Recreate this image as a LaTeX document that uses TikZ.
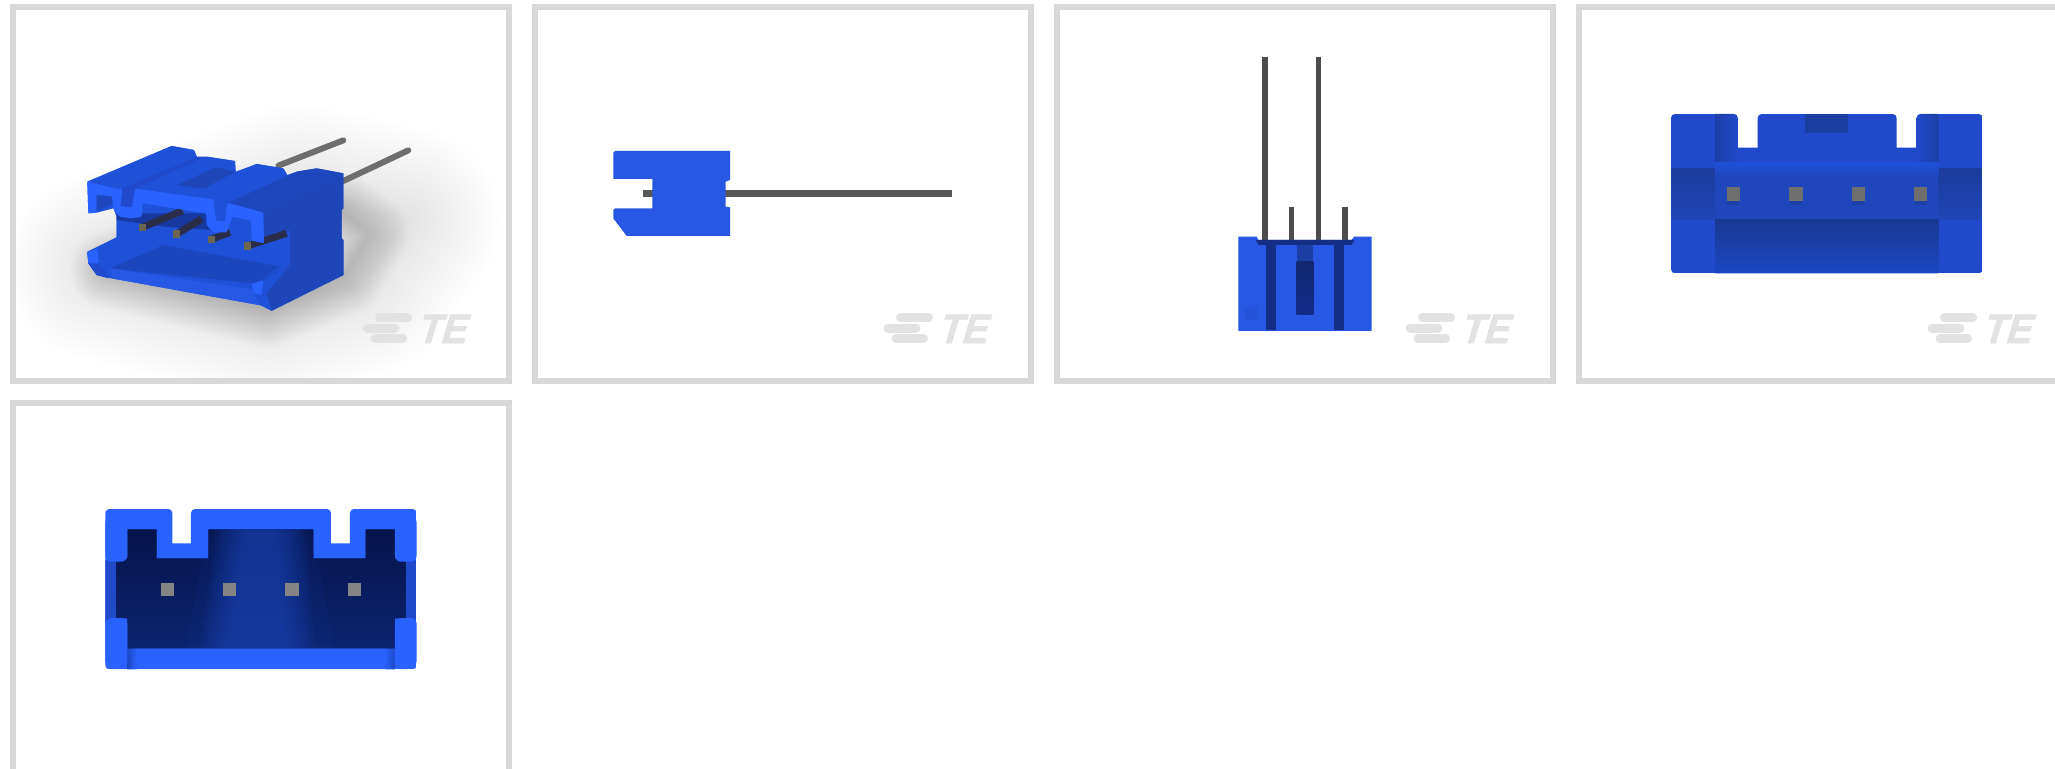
\documentclass[tikz,border=0pt]{standalone}
\usepackage{fontspec}
\setmainfont{Liberation Sans}
\newfontfamily\tefont[FakeSlant=0.3,FakeStretch=0.93,FakeBold=1.5]{Liberation Sans Bold}
\definecolor{frameg}{HTML}{D8D8D8}
\definecolor{logog}{HTML}{E2E2E2}
\definecolor{side}{HTML}{1F46B8}
\definecolor{flatb}{HTML}{2757E3}
\definecolor{bright}{HTML}{2A62FF}
\definecolor{midb}{HTML}{2049CC}
\definecolor{topb}{HTML}{1E50D8}
\definecolor{darkb}{HTML}{142E85}
\definecolor{pinc}{HTML}{6E6E6E}
\definecolor{pindark}{HTML}{2A2D4A}
\definecolor{pinend}{HTML}{6B6650}
\definecolor{fana}{HTML}{081A5C}
\definecolor{fanc}{HTML}{102C80}
\definecolor{fandeep}{HTML}{050F40}
\definecolor{glow}{HTML}{1E4BC0}
\tikzset{
  panelframe/.style={draw=frameg,line width=6pt,fill=white},
  pixel/.style={x=0.33333pt,y=-0.33333pt},
  logobar/.style={draw=logog,line width=9pt,line cap=round},
}
\newcommand{\telogo}[3]{%
  \begin{scope}[shift={(#2pt,#3pt)}]
    \draw[logobar] (379.5,317.5) -- (407.5,317.5);
    \draw[logobar] (367,328) -- (395,328);
    \draw[logobar] (375,338.5) -- (402.5,338.5);
    \node[anchor=base west,inner sep=0pt,text=logog,font=\fontsize{41}{41}\selectfont\tefont] (#1) at (416,343) {TE};
  \end{scope}}
\begin{document}
\begin{tikzpicture}[x=1pt,y=-1pt]
\useasboundingbox (0,0) rectangle (2055,768);
\clip (0,0) rectangle (2055,768);
\fill[white] (0,0) rectangle (2055,768);
% frames
\draw[panelframe] (13,7) rectangle (509,380.5);
\draw[panelframe] (535,7) rectangle (1031,380.5);
\draw[panelframe] (1057,7) rectangle (1553,380.5);
\draw[panelframe] (1579,7) rectangle (2075,380.5);
\draw[panelframe] (13,403) rectangle (509,790);

% ------- panel 1
\begin{scope}[pixel]
  \begin{scope}
    \clip (48,30) rectangle (1518,1134);
    \foreach \w in {10,20,...,240}{
      \draw[black,opacity=.0085,line width=\w*0.33333pt,line join=round]
        (330,810) -- (800,925) -- (1030,830) -- (1110,700) -- (1030,640) -- (700,660) -- cycle;
    }
    \foreach \w in {20,40,...,560}{
      \draw[black,opacity=.0035,line width=\w*0.33333pt,line join=round]
        (300,800) -- (800,930) -- (1080,850) -- (1220,660) -- (900,590) -- cycle;
    }
  \end{scope}
  % pins behind
  \draw[pinc,line width=6pt,line cap=round] (835,497) -- (1030,421);
  \draw[pinc,line width=6pt,line cap=round] (1030,543) -- (1225,451);
  % silhouette
  \fill[topb] (262,545) -- (515,438) -- (582,450) -- (595,480) -- (620,470) -- (705,483) -- (707,515) -- (770,492) -- (850,505) -- (862,525) -- (890,515) -- (950,505) -- (1030,520) -- (1030,625) -- (1025,630) -- (1025,715) -- (1030,720) -- (1030,825) -- (815,932) -- (782,916) -- (340,836) -- (290,825) -- (265,790) -- (262,757) -- (350,712) -- (350,650) -- (340,625) -- (290,638) -- (265,640) -- cycle;
  % back wall
  \fill[topb] (350,640) -- (870,680) -- (870,800) -- (490,740) -- (350,715) -- cycle;
  \fill[darkb!70!topb] (350,640) -- (640,640) -- (640,690) -- (490,680) -- (350,660) -- cycle;
  % right side
  \fill[side] (790,635) -- (1030,520) -- (1030,625) -- (1025,630) -- (1025,715) -- (1030,720) -- (1030,825) -- (815,932) -- (785,905) -- (760,850) -- (870,795) -- (870,690) -- (790,730) -- cycle;
  % floor
  \fill[topb!88!black] (328,805) -- (490,735) -- (840,800) -- (760,850) -- cycle;
  \fill[topb] (262,755) -- (350,712) -- (490,735) -- (328,805) -- (325,835) -- (290,825) -- (265,790) -- cycle;
  \fill[midb] (265,790) -- (295,790) -- (325,832) -- (290,825) -- cycle;
  \fill[bright,rounded corners=1pt] (262,757) -- (292,745) -- (296,790) -- (265,790) -- cycle;
  \fill[bright!90!black] (328,805) -- (757,868) -- (782,916) -- (340,836) -- cycle;
  \fill[topb] (760,880) -- (790,840) -- (870,795) -- (1000,770) -- (1000,830) -- (815,932) -- (782,916) -- cycle;
  \fill[side] (870,795) -- (1030,720) -- (1030,825) -- (815,932) -- (800,880) -- cycle;
  \fill[bright,rounded corners=1pt] (755,852) -- (790,840) -- (785,885) -- (762,880) -- cycle;
  % pins inside
  \foreach \a/\b/\c/\d in {427/682/548/632, 530/702/605/657, 634/718/690/697, 742/738/860/700}{
    \draw[pindark,line width=7pt] (\a,\b) -- (\c,\d);
    \fill[pinend] (\a-11,\b-11) rectangle (\a+11,\b+11);
  }
  % top faces
  \fill[topb,rounded corners=1pt] (262,545) -- (515,438) -- (582,450) -- (595,485) -- (400,570) -- (390,615) -- (365,590) -- (345,570) -- cycle;
  \fill[midb] (365,566) -- (592,470) -- (620,470) -- (405,566) -- (395,622) -- (365,618) -- cycle;
  \fill[topb,rounded corners=1pt] (400,570) -- (620,470) -- (705,483) -- (707,520) -- (640,598) -- cycle;
  \fill[side] (530,555) -- (648,502) -- (705,515) -- (612,566) -- cycle;
  \fill[topb,rounded corners=1pt] (640,598) -- (707,520) -- (770,492) -- (850,505) -- (862,525) -- (682,608) -- (675,665) -- (648,662) -- cycle;
  \fill[side!85!topb,rounded corners=1pt] (680,610) -- (890,515) -- (950,505) -- (1030,520) -- (790,638) -- cycle;
  % bright front profile
  \fill[bright,rounded corners=1pt] (262,545) -- (345,565) -- (368,568) -- (362,618) -- (395,622) -- (405,566) -- (640,598) -- (648,662) -- (675,665) -- (682,608) -- (790,638) -- (792,730) -- (756,722) -- (752,662) -- (698,650) -- (680,697) -- (640,697) -- (620,675) -- (618,640) -- (428,610) -- (425,650) -- (395,655) -- (358,650) -- (340,625) -- (335,590) -- (290,585) -- (290,638) -- (265,640) -- cycle;
  \fill[midb] (368,568) -- (405,566) -- (395,622) -- (362,618) -- cycle;
  \fill[side!85!topb] (290,585) -- (335,590) -- (338,610) -- (290,635) -- cycle;
\end{scope}

% ------- panel 2
\begin{scope}[pixel,shift={(530pt,0pt)}]
  \draw[pinc!80!black,line width=7pt] (338,582) -- (1267,582);
  \fill[flatb] (250,458) -- (255,453) -- (600,453) -- (600,540) -- (587,545) -- (587,620) -- (600,622) -- (600,708) -- (290,708) -- (250,655) -- (250,630) -- (255,625) -- (367,625) -- (367,537) -- (250,537) -- cycle;
\end{scope}

% ------- panel 3
\begin{scope}[pixel,shift={(1050pt,0pt)}]
  \draw[black!70,line width=5.3pt] (645,170) -- (645,725);
  \draw[black!70,line width=5.3pt] (805,170) -- (805,725);
  \draw[black!70,line width=5.3pt] (725,620) -- (725,725);
  \draw[black!70,line width=5.3pt] (885,620) -- (885,725);
  \fill[flatb] (565,710) -- (620,710) -- (625,720) -- (905,720) -- (912,710) -- (965,710) -- (965,993) -- (565,993) -- cycle;
  \fill[darkb] (618,720) -- (912,720) -- (905,735) -- (625,735) -- cycle;
  \fill[darkb] (648,735) rectangle (678,990);
  \fill[darkb] (853,735) rectangle (883,990);
  \fill[side!90!black] (740,735) rectangle (790,785);
  \shade[top color=darkb!85!black,bottom color=darkb!95!blue] (740,785) rectangle (790,945);
  \fill[flatb!80!side] (585,920) rectangle (625,960);
\end{scope}

% ------- panel 4
\begin{scope}[pixel,shift={(1570pt,0pt)}]
  \begin{scope}
    \clip[rounded corners=4pt] (303,342) -- (503,342) [sharp corners] -- (503,443) -- (563,443) [rounded corners=4pt] -- (563,342) -- (980,342) [sharp corners] -- (980,443) -- (1040,443) [rounded corners=4pt] -- (1040,342) -- (1238,342) -- (1238,820) -- (303,820) -- cycle;
    \fill[midb] (303,342) rectangle (1238,820);
    \shade[left color=side!90!black,right color=midb!95!side] (435,342) rectangle (503,490);
    \shade[left color=midb!95!side,right color=side!90!black] (1040,342) rectangle (1105,490);
    \fill[side!88!black] (705,342) rectangle (835,400);
    % middle band
    \shade[top color=side!85!black,bottom color=side] (303,505) rectangle (435,660);
    \shade[top color=side!85!black,bottom color=side] (1105,505) rectangle (1238,660);
    \shade[top color=topb,bottom color=side!95!topb] (435,488) rectangle (1105,530);
    \fill[side!95!topb] (435,530) rectangle (1105,660);
    % lower recess
    \shade[top color=side!80!black,bottom color=topb!90!black] (435,660) rectangle (1105,820);
  \end{scope}
  \foreach \a in {490,678,865,1052}{
    \fill[side!70!black,opacity=.3] (\a-18,575) rectangle (\a+18,615);
    \fill[pinc] (\a-20,562) rectangle (\a+20,602);
  }
\end{scope}

% ------- panel 5
\begin{scope}[pixel,shift={(0pt,-390pt)}]
  \begin{scope}
    \clip[rounded corners=4pt] (316,357) -- (517,357) [sharp corners] -- (517,460) -- (573,460) [rounded corners=4pt] -- (573,357) -- (993,357) [sharp corners] -- (993,460) -- (1050,460) [rounded corners=4pt] -- (1050,357) -- (1250,357) -- (1250,838) -- (316,838) -- cycle;
    \fill[bright] (316,357) rectangle (1250,838);
    \fill[midb] (316,510) rectangle (350,700);
    \fill[midb] (1217,510) rectangle (1250,700);
    \shade[left color=topb!90!black,right color=bright] (382,775) rectangle (410,838);
    \shade[left color=bright,right color=topb!90!black] (1155,775) rectangle (1185,838);
  \end{scope}
  \begin{scope}
    \clip (382,418) -- (470,418) -- (470,505) -- (625,505) -- (625,418) -- (940,418) -- (940,505) -- (1097,505) -- (1097,418) -- (1185,418) -- (1185,505) -- (1217,515) -- (1217,685) -- (1185,685) -- (1185,775) -- (382,775) -- (382,685) -- (350,685) -- (350,515) -- (382,505) -- cycle;
    \shade[left color=fana,middle color=fanc,right color=fana] (350,418) rectangle (1217,775);
    \shade[top color=fandeep,bottom color=fanc,opacity=.55] (350,418) rectangle (1217,775);
    \foreach \u in {0,10,...,90}{
      \fill[glow,opacity=.085] (715-70+\u,418) -- (850+70-\u,418) -- (905+40-\u,775) -- (640-40+\u,775) -- cycle;
    }
    \fill[glow,opacity=.08] (620,418) -- (940,418) -- (1000,775) -- (560,775) -- cycle;
  \end{scope}
  \fill[bright,rounded corners=6pt] (316,380) -- (382,380) -- (382,515) -- (316,515) -- cycle;
  \fill[bright,rounded corners=6pt] (1185,380) -- (1250,380) -- (1250,515) -- (1185,515) -- cycle;
  \fill[bright,rounded corners=6pt] (316,684) -- (382,684) -- (382,830) -- (316,830) -- cycle;
  \fill[bright,rounded corners=6pt] (1185,684) -- (1250,684) -- (1250,830) -- (1185,830) -- cycle;
  \foreach \a in {502,689,876,1063}{
    \fill[pinc!85!white] (\a-20,578) rectangle (\a+20,618);
  }
\end{scope}

\telogo{logoa}{0}{0}
\telogo{logob}{521}{0}
\telogo{logoc}{1043}{0}
\telogo{logod}{1565}{0}
\telogo{logoe}{0}{396}
\end{tikzpicture}
\end{document}
